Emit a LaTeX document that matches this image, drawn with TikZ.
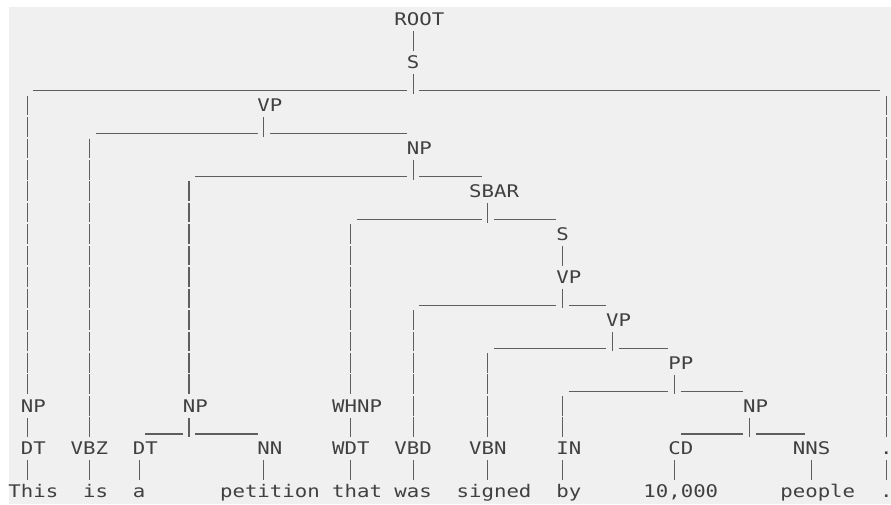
\documentclass[tikz,border=0pt]{standalone}
\usepackage{fontspec}
\newfontfamily\treefont[FakeStretch=1.19]{DejaVu Sans Mono}
\definecolor{bgcol}{HTML}{F0F0F0}
\definecolor{inkcol}{HTML}{404040}
\definecolor{linecol}{HTML}{5E5E5E}
% row centre (y) and column geometry, in px (= pt here)
\newcommand\RY[1]{(19.6+(#1)*21.45)}
\newcommand\CX[1]{(8.5+((#1)+0.5)*12.45)}
\newcommand\LX[2]{(8.5+((#1)+(#2)/2)*12.45)}
\newcommand\treebar[5]{% name, row, first col, last col, parent col
  \coordinate (#1L) at ({8.5+(#3)*12.45},{\RY{#2}+6.9});
  \coordinate (#1R) at ({8.5+((#4)+1)*12.45},{\RY{#2}+6.9});
  \coordinate (#1pL) at ({8.5+(#5)*12.45},{\RY{#2}+6.9});
  \coordinate (#1pR) at ({8.5+((#5)+1)*12.45},{\RY{#2}+6.9});
  \draw[hline] (#1L) -- (#1pL) (#1pR) -- (#1R);}
\begin{document}
\begin{tikzpicture}[x=1pt,y={(0pt,-1pt)},
  lbl/.style={inner sep=0pt, text height=12.7pt, text depth=0pt,
    minimum height=21.45pt, text=inkcol,
    font=\treefont\fontsize{17.4pt}{20pt}\selectfont},
  vline/.style={draw=linecol, line width=1.2pt,
    dash pattern=on 19.6pt off 1.85pt, dash phase=20.525pt},
  hline/.style={draw=linecol, line width=1.2pt}]
\useasboundingbox (0,0) rectangle (891,504);
\fill[white] (0,0) rectangle (891,504);
\fill[bgcol] (8.5,7) rectangle (891,504);

% column and row reference coordinates
\foreach \c in {1,6,10,14,20,27,32,38,44,48,53,59,64,70}
  \coordinate (c\c) at ({\CX{\c}},0);
\foreach \r in {3,5,7,9,13,15,17,19}
  \coordinate (rb\r) at (0,{\RY{\r}+10.725});

% phrase labels
\node[lbl] (ROOT) at ({\LX{31}{4}},{\RY{0}}) {ROOT};
\node[lbl] (S1)   at ({\LX{32}{1}},{\RY{2}}) {S};
\node[lbl] (VP1)  at ({\LX{20}{2}},{\RY{4}}) {VP};
\node[lbl] (NP2)  at ({\LX{32}{2}},{\RY{6}}) {NP};
\node[lbl] (SBAR) at ({\LX{37}{4}},{\RY{8}}) {SBAR};
\node[lbl] (S2)   at ({\LX{44}{1}},{\RY{10}}) {S};
\node[lbl] (VP2)  at ({\LX{44}{2}},{\RY{12}}) {VP};
\node[lbl] (VP3)  at ({\LX{48}{2}},{\RY{14}}) {VP};
\node[lbl] (PP)   at ({\LX{53}{2}},{\RY{16}}) {PP};
\node[lbl] (NP1)  at ({\LX{1}{2}},{\RY{18}}) {NP};
\node[lbl] (NP3)  at ({\LX{14}{2}},{\RY{18}}) {NP};
\node[lbl] (WHNP) at ({\LX{26}{4}},{\RY{18}}) {WHNP};
\node[lbl] (NP4)  at ({\LX{59}{2}},{\RY{18}}) {NP};
% part-of-speech labels
\node[lbl] (DT1) at ({\LX{1}{2}},{\RY{20}}) {DT};
\node[lbl] (VBZ) at ({\LX{5}{3}},{\RY{20}}) {VBZ};
\node[lbl] (DT2) at ({\LX{10}{2}},{\RY{20}}) {DT};
\node[lbl] (NN)  at ({\LX{20}{2}},{\RY{20}}) {NN};
\node[lbl] (WDT) at ({\LX{26}{3}},{\RY{20}}) {WDT};
\node[lbl] (VBD) at ({\LX{31}{3}},{\RY{20}}) {VBD};
\node[lbl] (VBN) at ({\LX{37}{3}},{\RY{20}}) {VBN};
\node[lbl] (IN)  at ({\LX{44}{2}},{\RY{20}}) {IN};
\node[lbl] (CD)  at ({\LX{53}{2}},{\RY{20}}) {CD};
\node[lbl] (NNS) at ({\LX{63}{3}},{\RY{20}}) {NNS};
\node[lbl] (PU)  at ({\LX{70}{1}},{\RY{20}}) {.};
% words
\node[lbl] (w1)  at ({\LX{0}{4}},{\RY{22}}) {This};
\node[lbl] (w2)  at ({\LX{6}{2}},{\RY{22}}) {is};
\node[lbl] (w3)  at ({\LX{10}{1}},{\RY{22}}) {a};
\node[lbl] (w4)  at ({\LX{17}{8}},{\RY{22}}) {petition};
\node[lbl] (w5)  at ({\LX{26}{4}},{\RY{22}}) {that};
\node[lbl] (w6)  at ({\LX{31}{3}},{\RY{22}}) {was};
\node[lbl] (w7)  at ({\LX{36}{6}},{\RY{22}}) {signed};
\node[lbl] (w8)  at ({\LX{44}{2}},{\RY{22}}) {by};
\node[lbl] (w9)  at ({\LX{51}{6}},{\RY{22}}) {10,000};
\node[lbl] (w10) at ({\LX{62}{6}},{\RY{22}}) {people};
\node[lbl] (w11) at ({\LX{70}{1}},{\RY{22}}) {.};

% horizontal bars
\treebar{b3}{3}{2}{69}{32}
\treebar{b5}{5}{7}{31}{20}
\treebar{b7}{7}{15}{37}{32}
\treebar{b9}{9}{28}{43}{38}
\treebar{b13}{13}{33}{47}{44}
\treebar{b15}{15}{39}{52}{48}
\treebar{b17}{17}{45}{58}{53}
\treebar{b19a}{19}{11}{19}{14}
\treebar{b19b}{19}{54}{63}{59}

% vertical connectors
\draw[vline] (c32 |- ROOT.south) -- (c32 |- S1.north);
\draw[vline] (c32 |- S1.south) -- (c32 |- rb3);
\draw[vline] (c1 |- rb3) -- (c1 |- NP1.north);
\draw[vline] (c70 |- rb3) -- (c70 |- PU.north);
\draw[vline] (c20 |- VP1.south) -- (c20 |- rb5);
\draw[vline] (c6 |- rb5) -- (c6 |- VBZ.north);
\draw[vline] (c32 |- NP2.south) -- (c32 |- rb7);
\draw[vline] (c14 |- rb7) -- (c14 |- NP3.north);
\draw[vline] (c38 |- SBAR.south) -- (c38 |- rb9);
\draw[vline] (c27 |- rb9) -- (c27 |- WHNP.north);
\draw[vline] (c44 |- S2.south) -- (c44 |- VP2.north);
\draw[vline] (c44 |- VP2.south) -- (c44 |- rb13);
\draw[vline] (c32 |- rb13) -- (c32 |- VBD.north);
\draw[vline] (c48 |- VP3.south) -- (c48 |- rb15);
\draw[vline] (c38 |- rb15) -- (c38 |- VBN.north);
\draw[vline] (c53 |- PP.south) -- (c53 |- rb17);
\draw[vline] (c44 |- rb17) -- (c44 |- IN.north);
\draw[vline] (c59 |- NP4.south) -- (c59 |- rb19);
\draw[vline] (c14 |- NP3.south) -- (c14 |- rb19);
\draw[vline] (c1 |- NP1.south) -- (c1 |- DT1.north);
\draw[vline] (c27 |- WHNP.south) -- (c27 |- WDT.north);
\draw[vline] (c1 |- DT1.south) -- (c1 |- w1.north);
\draw[vline] (c6 |- VBZ.south) -- (c6 |- w2.north);
\draw[vline] (c10 |- DT2.south) -- (c10 |- w3.north);
\draw[vline] (c20 |- NN.south) -- (c20 |- w4.north);
\draw[vline] (c27 |- WDT.south) -- (c27 |- w5.north);
\draw[vline] (c32 |- VBD.south) -- (c32 |- w6.north);
\draw[vline] (c38 |- VBN.south) -- (c38 |- w7.north);
\draw[vline] (c44 |- IN.south) -- (c44 |- w8.north);
\draw[vline] (c53 |- CD.south) -- (c53 |- w9.north);
\draw[vline] (c64 |- NNS.south) -- (c64 |- w10.north);
\draw[vline] (c70 |- PU.south) -- (c70 |- w11.north);
\end{tikzpicture}
\end{document}
